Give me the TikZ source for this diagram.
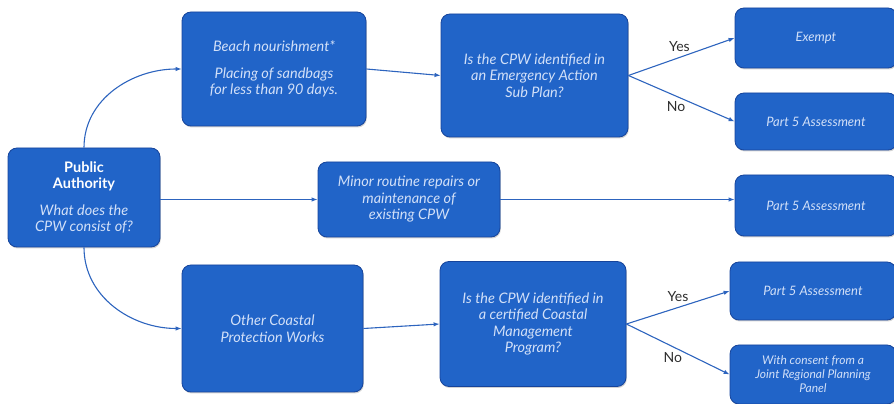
\documentclass[tikz,border=0pt]{standalone}
\usepackage{fontspec}
\setmainfont{Lato}
\usetikzlibrary{arrows.meta,shadows}
\definecolor{cpwblue}{RGB}{33,100,200}
\definecolor{cpwedge}{RGB}{22,68,155}
\definecolor{cpwline}{RGB}{45,100,190}
\definecolor{cpwtext}{RGB}{210,224,248}
\definecolor{cpwlabel}{RGB}{45,45,45}
\newcommand{\authhead}[1]{\textup{\textbf{\color{white}#1}}}
\tikzset{
  box/.style={draw=cpwedge, thick, rounded corners=9pt, fill=cpwblue, align=center,
    inner sep=4pt, font=\fontsize{14.5}{16.5}\selectfont\itshape\color{cpwtext},
    drop shadow={shadow xshift=0.8pt, shadow yshift=-1.5pt, opacity=0.35}},
  outbox/.style={box, minimum width=162pt, font=\fontsize{13}{15}\selectfont\itshape\color{cpwtext}},
  flow/.style={-{Latex[length=6pt,width=4.5pt]}, draw=cpwline, line width=1.1pt},
  answer/.style={font=\fontsize{14}{16}\selectfont\color{cpwlabel}, inner sep=2pt}
}
\begin{document}
\begin{tikzpicture}[x=1pt, y=1pt]
  \useasboundingbox (0,0) rectangle (894,404);
  % first column
  \node[box, minimum width=152pt, minimum height=99pt] (auth) at (84,206.5)
    {\authhead{Public}\\\authhead{Authority}\\[10pt]
     What does the\\CPW consist of?};
  % second column
  \node[box, minimum width=184pt, minimum height=114pt] (beach) at (274,335)
    {Beach nourishment*\\[10pt]Placing of sandbags\\for less than 90 days.};
  \node[box, minimum width=182pt, minimum height=75pt] (minor) at (409,204.5)
    {Minor routine repairs or\\maintenance of\\existing CPW};
  \node[box, minimum width=181pt, minimum height=127pt] (other) at (272.5,75.5)
    {Other Coastal\\Protection Works};
  % questions
  \node[box, minimum width=187pt, minimum height=123pt] (sub) at (534.5,328.5)
    {Is the CPW identified in\\an Emergency Action\\Sub Plan?};
  \node[box, minimum width=186pt, minimum height=125pt] (cmp) at (533,80)
    {Is the CPW identified in\\a certified Coastal\\Management\\Program?};
  % outcomes
  \node[outbox, minimum height=60pt] (exempt) at (816,366) {Exempt};
  \node[outbox, minimum height=57pt] (p5a) at (816,282.5) {Part 5 Assessment};
  \node[outbox, minimum height=61pt] (p5b) at (816,198.5) {Part 5 Assessment};
  \node[outbox, minimum width=166pt, minimum height=58pt] (p5c) at (813,113) {Part 5 Assessment};
  \node[outbox, minimum width=166pt, minimum height=59pt,
    font=\fontsize{12}{14}\selectfont\itshape\color{cpwtext}] (jrpp) at (813,29.5)
    {With consent from a\\Joint Regional Planning\\Panel};
  % connectors
  \draw[flow] (auth.north) to[out=90, in=180] (beach.west);
  \draw[flow] (auth.south) to[out=-90, in=180] (other.west);
  \draw[flow] (auth.east |- minor.west) -- (minor.west);
  \draw[flow] (minor.east) -- (minor.east -| p5b.west);
  \draw[flow] (beach.east) -- (sub.west);
  \draw[flow] (other.east) -- (cmp.west);
  \draw[flow] (sub.east) -- node[answer, above, pos=0.48, yshift=3pt] {Yes} (exempt.west);
  \draw[flow] (sub.east) -- node[answer, below, pos=0.45, yshift=-3pt] {No} (p5a.west);
  \draw[flow] (cmp.east) -- node[answer, above, pos=0.5, yshift=3pt] {Yes} (p5c.west);
  \draw[flow] (cmp.east) -- node[answer, below, pos=0.45, yshift=-3pt] {No} (jrpp.west);
\end{tikzpicture}
\end{document}
